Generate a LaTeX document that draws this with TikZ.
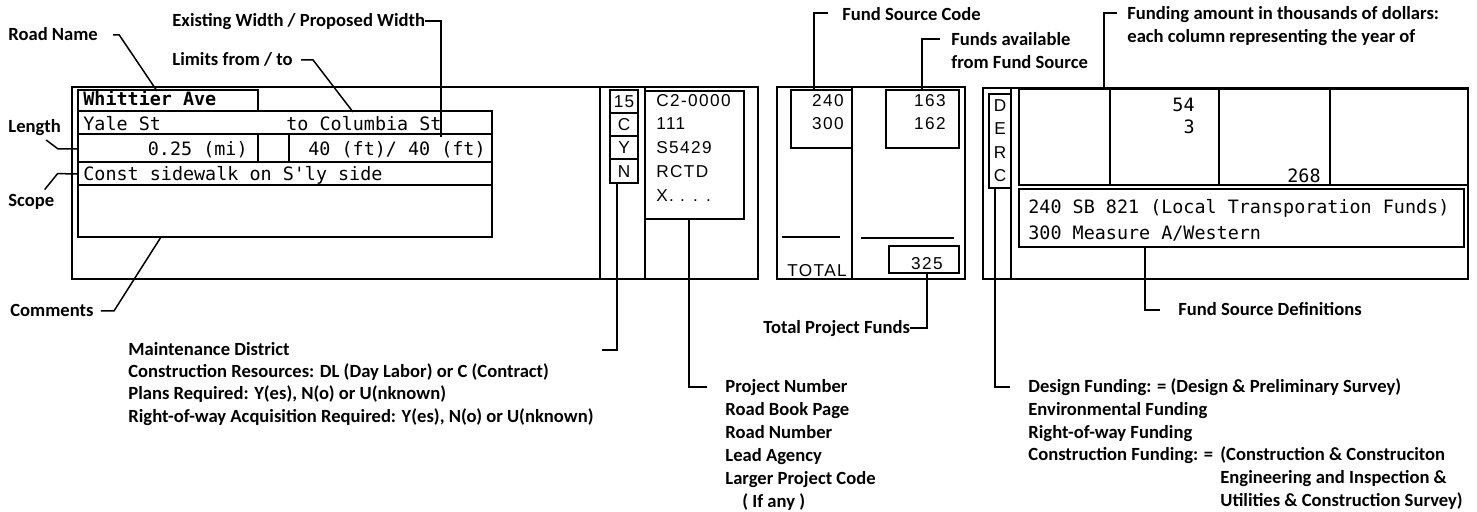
\documentclass[tikz,border=0pt]{standalone}
\usepackage{fontspec}
\setmainfont{Carlito}
\newfontfamily\formmono{DejaVu Sans Mono}
\newfontfamily\formsans[LetterSpace=8]{Liberation Sans}
\usepackage{tikz}
\usetikzlibrary{calc}
\tikzset{
  frame/.style={line width=0.8pt},
  formline/.style={line width=0.6pt},
  leader/.style={line width=0.75pt},
  lbl/.style={inner sep=0pt, anchor=base west, text height=6pt, text depth=0pt, font=\bfseries\fontsize{9.3}{11}\selectfont},
  mono/.style={inner sep=0pt, font=\formmono\fontsize{9.2}{11}\selectfont},
  sans/.style={inner sep=0pt, font=\formsans\fontsize{8.6}{10}\selectfont}
}
\begin{document}
\begin{tikzpicture}[x=0.5pt,y=-0.5pt]
\useasboundingbox (0,0) rectangle (1477,512);
\draw[frame] (72,87) rectangle (758,279);
\draw[frame] (600,87) -- (600,279);
\draw[frame] (645,87) -- (645,279);
\draw[formline] (78,90) rectangle (258,111);
\draw[formline] (78,111) rectangle (492,134);
\draw[formline] (78,134) rectangle (492,162);
\draw[formline] (258,134) -- (258,162);
\draw[formline] (289,134) -- (289,162);
\draw[formline] (78,162) rectangle (492,185);
\draw[formline] (78,185) rectangle (492,237);
\node[mono, anchor=base west] (road) at (83,106) {\bfseries Whittier Ave};
\node[mono, anchor=base west] (from) at (83,131) {Yale St};
\node[mono, anchor=base west] (to) at (286,131) {to Columbia St};
\node[mono, anchor=base east] (length) at (248,156) {0.25 (mi)};
\node[mono, anchor=base west] (width) at (308,156) {40 (ft)/ 40 (ft)};
\node[mono, anchor=base west] (scope) at (83,181) {Const sidewalk on S\textquotesingle ly side};
\draw[formline] (610,90) rectangle (638,183);
\draw[formline] (610,113) -- (638,113);
\draw[formline] (610,136) -- (638,136);
\draw[formline] (610,159) -- (638,159);
\node[sans, anchor=base] (district) at (624,108) {15};
\node[sans, anchor=base] (resource) at (624,131) {C};
\node[sans, anchor=base] (plans) at (624,154) {Y};
\node[sans, anchor=base] (row) at (624,178) {N};
\draw[formline] (645,91) rectangle (744,219);
\node[sans, anchor=base west] (projno) at (656,107) {C2-0000};
\node[sans, anchor=base west] (bookpage) at (656,130) {111};
\node[sans, anchor=base west] (roadno) at (656,154) {S5429};
\node[sans, anchor=base west] (agency) at (656,178) {RCTD};
\node[sans, anchor=base west] (larger) at (656,202) {X. . . .};
\draw[frame] (777,87) rectangle (965,279);
\draw[frame] (852,87) -- (852,279);
\draw[formline] (791,90) rectangle (852,148);
\draw[formline] (886,90) rectangle (959,148);
\draw[formline] (782,237) -- (840,237);
\draw[formline] (861,238) -- (954,238);
\draw[formline] (889,246) rectangle (959,273);
\node[sans, anchor=base east] (codeA) at (844,107) {240};
\node[sans, anchor=base east] (codeB) at (844,130) {300};
\node[sans, anchor=base east] (availA) at (946,107) {163};
\node[sans, anchor=base east] (availB) at (946,130) {162};
\node[sans, anchor=base west] (totaltxt) at (787,277) {TOTAL};
\node[sans, anchor=base east] (totalsum) at (943,270) {325};
\draw[frame] (983,88) rectangle (1468,279);
\draw[frame] (1011,88) -- (1011,279);
\draw[formline] (989,94) rectangle (1011,188);
\draw[formline] (1019,89) rectangle (1468,185);
\draw[formline] (1110,89) -- (1110,185);
\draw[formline] (1219,89) -- (1219,185);
\draw[formline] (1330,89) -- (1330,185);
\draw[formline] (1019,189) rectangle (1464,247);
\node[sans, anchor=base] (phD) at (1000,112) {D};
\node[sans, anchor=base] (phE) at (1000,135) {E};
\node[sans, anchor=base] (phR) at (1000,159) {R};
\node[sans, anchor=base] (phC) at (1000,182) {C};
\node[mono, anchor=base east] (yrD) at (1195,112) {54};
\node[mono, anchor=base east] (yrE) at (1195,134) {3};
\node[mono, anchor=base east] (yrC) at (1321,183) {268};
\node[mono, anchor=base west] (defA) at (1028,214) {240 SB 821 (Local Transporation Funds)};
\node[mono, anchor=base west] (defB) at (1028,240) {300 Measure A/Western};
\node[lbl] (roadlbl) at (8,41) {Road Name};
\node[lbl] (widthlbl) at (172,27) {Existing Width / Proposed Width};
\node[lbl] (limitslbl) at (172,66) {Limits from / to};
\node[lbl] (lengthlbl) at (8,133) {Length};
\node[lbl] (scopelbl) at (8,207) {Scope};
\node[lbl] (commentlbl) at (10,317) {Comments};
\node[lbl] (codelbl) at (842,21) {Fund Source Code};
\node[lbl] (availlbl) at (951,46) {Funds available};
\node[lbl] (availlblB) at (951,69) {from Fund Source};
\node[lbl] (yearlbl) at (1127,20) {Funding amount in thousands of dollars:};
\node[lbl] (yearlblB) at (1127,43) {each column representing the year of};
\node[lbl] (mdA) at (128,356) {Maintenance District};
\node[lbl] (mdB) at (128,378) {Construction Resources: DL (Day Labor) or C (Contract)};
\node[lbl] (mdC) at (128,400) {Plans Required: Y(es), N(o) or U(nknown)};
\node[lbl] (mdD) at (128,423) {Right-of-way Acquisition Required: Y(es), N(o) or U(nknown)};
\node[lbl] (prA) at (725,393) {Project Number};
\node[lbl] (prB) at (725,416) {Road Book Page};
\node[lbl] (prC) at (725,439) {Road Number};
\node[lbl] (prD) at (725,462) {Lead Agency};
\node[lbl] (prE) at (725,485) {Larger Project Code};
\node[lbl] (prF) at (742,508) {( If any )};
\node[lbl] (totallbl) at (763,334) {Total Project Funds};
\node[lbl] (defslbl) at (1178,316) {Fund Source Definitions};
\node[lbl] (phA) at (1028,393) {Design Funding: = (Design \& Preliminary Survey)};
\node[lbl] (phB) at (1028,416) {Environmental Funding};
\node[lbl] (phCl) at (1028,439) {Right-of-way Funding};
\node[lbl] (phDl) at (1028,461) {Construction Funding: =};
\node[lbl] (phDa) at (1220,461) {(Construction \& Construciton};
\node[lbl] (phDb) at (1220,484) {Engineering and Inspection \&};
\node[lbl] (phDc) at (1220,507) {Utilities \& Construction Survey)};
\coordinate (roadtop) at (157,91);
\coordinate (widthfoot) at (441,137);
\coordinate (limitstop) at (353,112);
\coordinate (lengthrow) at (78,149);
\coordinate (scoperow) at (78,174);
\coordinate (commentfoot) at (161,237);
\coordinate (codetop) at (814,90);
\coordinate (availtop) at (922,90);
\coordinate (yeartop) at (1104,88);
\coordinate (mdfoot) at (617,183);
\coordinate (mdhook) at (602,350);
\coordinate (projfoot) at (689,219);
\coordinate (totalfoot) at (927,273);
\coordinate (dercfoot) at (995,188);
\coordinate (defsfoot) at (1145,247);
\draw[leader] ($(roadlbl.east)+(15,0)$) -- ++(6,0) -- (roadtop);
\draw[leader] (widthlbl.east) -| (widthfoot);
\draw[leader] ($(limitslbl.east)+(8,0)$) -- ++(12,0) -- (limitstop);
\draw[leader] ($(lengthlbl.base east)+(-15,7)$) -- ++(12,9) -- (lengthrow);
\draw[leader] ($(scopelbl.north east)+(-10,-5)$) -- ++(13,-16) -- (scoperow);
\draw[leader] ($(commentlbl.east)+(7,0)$) -- ++(13,0) -- (commentfoot);
\draw[leader] ($(codelbl.west)+(-14,-2)$) -| (codetop);
\draw[leader] ($(availlbl.west)+(-11,-1)$) -| (availtop);
\draw[leader] ($(yearlbl.west)+(-10,-1)$) -| (yeartop);
\draw[leader] (mdfoot) |- (mdhook);
\draw[leader] (projfoot) |- ($(prA.west)+(-18,0)$);
\draw[leader] (totalfoot) |- (totallbl.east);
\draw[leader] (dercfoot) |- ($(phA.west)+(-18,0)$);
\draw[leader] (defsfoot) |- ($(defslbl.west)+(-18,0)$);
\end{tikzpicture}
\end{document}
